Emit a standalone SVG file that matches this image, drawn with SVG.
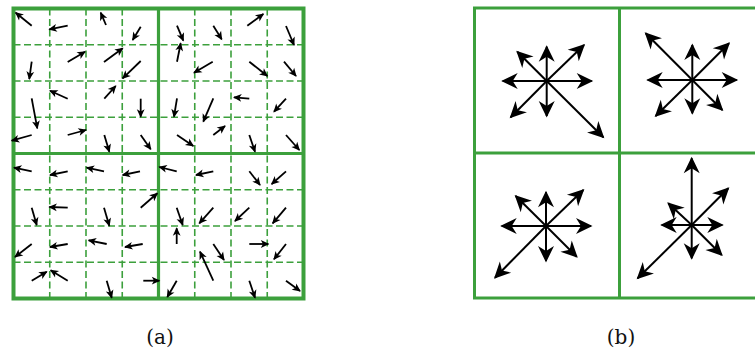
<svg xmlns="http://www.w3.org/2000/svg" width="755" height="351" viewBox="0 0 755 351">
<style>
.thick{fill:none;stroke:#3ca03c;stroke-width:4}
.mid{fill:none;stroke:#3ca03c;stroke-width:3.2}
.dash{fill:none;stroke:#3ca03c;stroke-width:1.6;stroke-dasharray:7 3.5}
.bline{fill:none;stroke:#3ca03c;stroke-width:3}
.sa{stroke:#000;stroke-width:1.8;marker-end:url(#hs)}
.la{stroke:#000;stroke-width:2;marker-end:url(#hl)}
.lbl{font-family:"DejaVu Serif","Liberation Serif",serif;font-size:20px;fill:#111;text-anchor:middle}
</style>
<defs>
<marker id="hs" markerUnits="userSpaceOnUse" orient="auto" refX="0" refY="0" markerWidth="20" markerHeight="20" overflow="visible">
<path d="M1,0 L-7.5,-3.9 L-5.3,0 L-7.5,3.9 Z" fill="#000"/>
</marker>
<marker id="hl" markerUnits="userSpaceOnUse" orient="auto" refX="0" refY="0" markerWidth="40" markerHeight="40" overflow="visible">
<path d="M1.5,0 L-15,-8 L-10,0 L-15,8 Z" fill="#000"/>
</marker>
</defs>
<rect width="755" height="351" fill="#fff"/>

<g id="grid-a">
<g id="grid-a-lines">
<path class="dash" d="M49.75,8.5V298.5M86,8.5V298.5M122.25,8.5V298.5M194.75,8.5V298.5M231,8.5V298.5M267.25,8.5V298.5"/>
<path class="dash" d="M13.5,44.75H303.5M13.5,81H303.5M13.5,117.25H303.5M13.5,189.75H303.5M13.5,226H303.5M13.5,262.25H303.5"/>
<path class="mid" d="M158.5,8.5V298.5M13.5,153.5H303.5"/>
<rect class="thick" x="13.5" y="8.5" width="290" height="290"/>
</g>
<g id="grid-a-arrows">
<line class="sa" x1="31.7" y1="25.7" x2="15.7" y2="12.7"/>
<line class="sa" x1="67.7" y1="25.7" x2="49.3" y2="29.3"/>
<line class="sa" x1="106" y1="25" x2="100.7" y2="12.7"/>
<line class="sa" x1="140.7" y1="26.7" x2="132.7" y2="40"/>
<line class="sa" x1="177" y1="25.7" x2="183.3" y2="40.7"/>
<line class="sa" x1="213.3" y1="25.7" x2="221.7" y2="39.3"/>
<line class="sa" x1="247.3" y1="25.7" x2="263.3" y2="14"/>
<line class="sa" x1="286" y1="26" x2="294" y2="45"/>

<line class="sa" x1="31.7" y1="61.7" x2="29.3" y2="79"/>
<line class="sa" x1="67.7" y1="62" x2="85" y2="51.7"/>
<line class="sa" x1="104" y1="62" x2="122.7" y2="48.3"/>
<line class="sa" x1="140.7" y1="61" x2="122.7" y2="78.3"/>
<line class="sa" x1="177" y1="61.7" x2="180.7" y2="43.3"/>
<line class="sa" x1="212.7" y1="61.7" x2="194" y2="72.7"/>
<line class="sa" x1="249.3" y1="61.7" x2="267.3" y2="76"/>
<line class="sa" x1="284" y1="61.7" x2="296" y2="76"/>

<line class="sa" x1="31.7" y1="98.3" x2="37.3" y2="128.3"/>
<line class="sa" x1="67.7" y1="98.7" x2="50" y2="90.7"/>
<line class="sa" x1="104.3" y1="98.7" x2="115.7" y2="86"/>
<line class="sa" x1="140.7" y1="98.7" x2="140.7" y2="116.7"/>
<line class="sa" x1="177" y1="98.3" x2="174" y2="116.7"/>
<line class="sa" x1="213.3" y1="98.3" x2="203.3" y2="121.7"/>
<line class="sa" x1="249.3" y1="98.7" x2="234" y2="97.3"/>
<line class="sa" x1="286" y1="98.7" x2="274" y2="111.7"/>

<line class="sa" x1="31.7" y1="135" x2="11.7" y2="140.7"/>
<line class="sa" x1="67.7" y1="135" x2="86" y2="130"/>
<line class="sa" x1="104.3" y1="135" x2="109.3" y2="151.7"/>
<line class="sa" x1="140.7" y1="135" x2="150.7" y2="149.3"/>
<line class="sa" x1="177" y1="135" x2="193.3" y2="146"/>
<line class="sa" x1="213.3" y1="135" x2="225" y2="126"/>
<line class="sa" x1="249.3" y1="135" x2="255" y2="151.7"/>
<line class="sa" x1="286" y1="135" x2="299.3" y2="150"/>

<line class="sa" x1="31.7" y1="171.3" x2="14" y2="167.7"/>
<line class="sa" x1="67.7" y1="171.3" x2="50" y2="175"/>
<line class="sa" x1="104" y1="171.3" x2="86.7" y2="167.7"/>
<line class="sa" x1="140" y1="171.3" x2="122.7" y2="175"/>
<line class="sa" x1="176.7" y1="171.3" x2="159.3" y2="167"/>
<line class="sa" x1="213.3" y1="171.3" x2="196" y2="175"/>
<line class="sa" x1="249.3" y1="171.3" x2="260" y2="185"/>
<line class="sa" x1="286" y1="171.3" x2="271.7" y2="184"/>

<line class="sa" x1="31.7" y1="207.7" x2="36.7" y2="225"/>
<line class="sa" x1="67.7" y1="207.7" x2="49.3" y2="207"/>
<line class="sa" x1="104" y1="207.7" x2="109.3" y2="225.7"/>
<line class="sa" x1="140.7" y1="207.7" x2="157.3" y2="193.3"/>
<line class="sa" x1="176.7" y1="207.7" x2="182.7" y2="225"/>
<line class="sa" x1="213.3" y1="207.7" x2="199.3" y2="223.3"/>
<line class="sa" x1="249.3" y1="207.7" x2="235" y2="221"/>
<line class="sa" x1="286" y1="207.7" x2="272.7" y2="223.3"/>

<line class="sa" x1="31.7" y1="244" x2="15" y2="257"/>
<line class="sa" x1="67.7" y1="244" x2="50" y2="247"/>
<line class="sa" x1="106.7" y1="244" x2="88.7" y2="240.3"/>
<line class="sa" x1="142.7" y1="244" x2="125" y2="247"/>
<line class="sa" x1="176.7" y1="244" x2="176.7" y2="228.3"/>
<line class="sa" x1="213.3" y1="244" x2="224" y2="260"/>
<line class="sa" x1="249.3" y1="244" x2="268.3" y2="244"/>
<line class="sa" x1="286" y1="244" x2="274" y2="259.3"/>

<line class="sa" x1="31.7" y1="280.7" x2="46.7" y2="271.7"/>
<line class="sa" x1="67.7" y1="280.7" x2="50.7" y2="270.3"/>
<line class="sa" x1="106.7" y1="280.7" x2="111.7" y2="297.7"/>
<line class="sa" x1="143.3" y1="280.7" x2="159.3" y2="280.7"/>
<line class="sa" x1="176.7" y1="280.7" x2="167.3" y2="297"/>
<line class="sa" x1="213.3" y1="280.7" x2="200" y2="251.7"/>
<line class="sa" x1="249.3" y1="280.7" x2="255" y2="297.7"/>
<line class="sa" x1="286" y1="280.7" x2="300" y2="291"/>
</g>
</g>

<g id="grid-b">
<g id="grid-b-lines">
<path class="bline" d="M619.5,8V298M474.5,153H764.5"/>
<rect class="bline" x="474.5" y="8" width="290" height="290"/>
</g>
<g id="cell-tl">
<line class="la" x1="546.7" y1="81" x2="546.7" y2="46.7"/>
<line class="la" x1="546.7" y1="81" x2="591.7" y2="81"/>
<line class="la" x1="546.7" y1="81" x2="502.7" y2="81"/>
<line class="la" x1="546.7" y1="81" x2="546.7" y2="116"/>
<line class="la" x1="546.7" y1="81" x2="584" y2="45"/>
<line class="la" x1="546.7" y1="81" x2="517.3" y2="51.7"/>
<line class="la" x1="546.7" y1="81" x2="510.7" y2="117.3"/>
<line class="la" x1="546.7" y1="81" x2="603.3" y2="137.3"/>
</g>
<g id="cell-tr">
<line class="la" x1="692.3" y1="80" x2="692.3" y2="45"/>
<line class="la" x1="692.3" y1="80" x2="736.7" y2="80"/>
<line class="la" x1="692.3" y1="80" x2="647.7" y2="80"/>
<line class="la" x1="692.3" y1="80" x2="692.3" y2="113.3"/>
<line class="la" x1="692.3" y1="80" x2="729" y2="43.3"/>
<line class="la" x1="692.3" y1="80" x2="645.7" y2="33.3"/>
<line class="la" x1="692.3" y1="80" x2="655.7" y2="116"/>
<line class="la" x1="692.3" y1="80" x2="722.3" y2="110"/>
</g>
<g id="cell-bl">
<line class="la" x1="546" y1="226" x2="546" y2="192.3"/>
<line class="la" x1="546" y1="226" x2="591" y2="226"/>
<line class="la" x1="546" y1="226" x2="501.7" y2="226"/>
<line class="la" x1="546" y1="226" x2="546" y2="261"/>
<line class="la" x1="546" y1="226" x2="583.3" y2="190"/>
<line class="la" x1="546" y1="226" x2="515.7" y2="196"/>
<line class="la" x1="546" y1="226" x2="495" y2="277.7"/>
<line class="la" x1="546" y1="226" x2="576.7" y2="256.7"/>
</g>
<g id="cell-br">
<line class="la" x1="691.7" y1="225" x2="691.7" y2="158.3"/>
<line class="la" x1="691.7" y1="225" x2="722.3" y2="225"/>
<line class="la" x1="691.7" y1="225" x2="661.7" y2="225"/>
<line class="la" x1="691.7" y1="225" x2="691.7" y2="258.3"/>
<line class="la" x1="691.7" y1="225" x2="728.3" y2="188.3"/>
<line class="la" x1="691.7" y1="225" x2="668.3" y2="203.3"/>
<line class="la" x1="691.7" y1="225" x2="637.7" y2="278.3"/>
<line class="la" x1="691.7" y1="225" x2="721.7" y2="255"/>
</g>
</g>

<g id="labels">
<text class="lbl" x="160" y="344">(a)</text>
<text class="lbl" x="621" y="344">(b)</text>
</g>
</svg>
